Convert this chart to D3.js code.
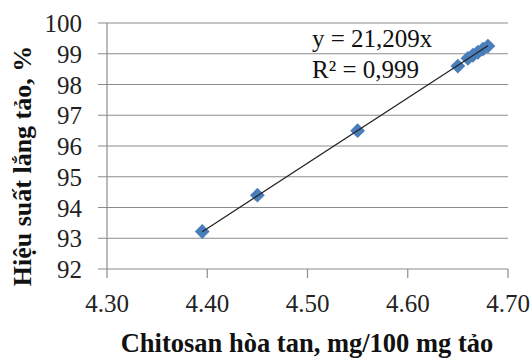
<!DOCTYPE html>
<html>
<head>
<meta charset="utf-8">
<script src="https://cdn.jsdelivr.net/npm/d3@7"></script>
<style>
  body { margin: 0; background: #fff; }
  text { font-family: "Liberation Serif", "Times New Roman", serif; }
</style>
</head>
<body>
<div id="chart"></div>
<script>
// chitosan dissolved (mg/100 mg algae) vs settling efficiency (%)
const chitosan = [4.395, 4.45, 4.55, 4.65, 4.66, 4.665, 4.67, 4.675, 4.68];
const efficiency = [93.22, 94.40, 96.50, 98.60, 98.85, 98.95, 99.05, 99.15, 99.25];
const xTicks = [4.30, 4.40, 4.50, 4.60, 4.70];
const yTicks = [92, 93, 94, 95, 96, 97, 98, 99, 100];
const slope = 21.209;
const eqLines = ['y = 21,209x', 'R² = 0,999'];

const width = 532, height = 358;
const margin = { top: 23, right: 24, bottom: 89, left: 107 };

const svg = d3.select('#chart').append('svg')
  .attr('width', width)
  .attr('height', height);

const x = d3.scaleLinear().domain([4.30, 4.70]).range([margin.left, width - margin.right]);
const y = d3.scaleLinear().domain([92, 100]).range([height - margin.bottom, margin.top]);

// gridlines + left tick marks
svg.append('g')
  .selectAll('line')
  .data(yTicks)
  .enter()
  .append('line')
  .attr('x1', margin.left - 9)
  .attr('x2', width - margin.right)
  .attr('y1', d => y(d))
  .attr('y2', d => y(d))
  .style('stroke', '#8c8c8c')
  .style('stroke-width', 1.2);

// y axis line
svg.append('line')
  .attr('x1', margin.left).attr('x2', margin.left)
  .attr('y1', y(100)).attr('y2', y(92))
  .style('stroke', '#8c8c8c')
  .style('stroke-width', 1.2);

// x ticks
svg.append('g')
  .selectAll('line')
  .data(xTicks)
  .enter()
  .append('line')
  .attr('x1', d => x(d)).attr('x2', d => x(d))
  .attr('y1', y(92)).attr('y2', y(92) + 9)
  .style('stroke', '#8c8c8c')
  .style('stroke-width', 1.2);

// y tick labels
svg.append('g')
  .selectAll('text')
  .data(yTicks)
  .enter()
  .append('text')
  .attr('x', 82)
  .attr('y', d => y(d) + 9)
  .attr('text-anchor', 'end')
  .style('font-size', '25px')
  .style('fill', '#222')
  .text(d => d);

// x tick labels
svg.append('g')
  .selectAll('text')
  .data(xTicks)
  .enter()
  .append('text')
  .attr('x', d => x(d))
  .attr('y', 312)
  .attr('text-anchor', 'middle')
  .style('font-size', '25px')
  .style('fill', '#222')
  .text(d => d3.format('.2f')(d));

const xr = d3.extent(chitosan);

// markers (square turned 45deg, like Excel's diamond)
svg.append('g')
  .selectAll('path')
  .data(chitosan)
  .enter()
  .append('path')
  .attr('d', d3.symbol().type(d3.symbolSquare).size(110))
  .attr('transform', (d, i) => `translate(${x(d)},${y(efficiency[i])}) rotate(45)`)
  .style('fill', '#4a7ebb');

// trendline drawn above the markers
svg.append('line')
  .attr('x1', x(xr[0])).attr('y1', y(slope * xr[0]))
  .attr('x2', x(xr[1])).attr('y2', y(slope * xr[1]))
  .style('stroke', '#222')
  .style('stroke-width', 1.2);

// equation label
svg.append('g')
  .selectAll('text')
  .data(eqLines)
  .enter()
  .append('text')
  .attr('x', 312)
  .attr('y', (d, i) => 47 + i * 31)
  .style('font-size', '25px')
  .style('fill', '#111')
  .text(d => d);

// axis titles
svg.append('text')
  .attr('x', 307)
  .attr('y', 352)
  .attr('text-anchor', 'middle')
  .style('font-size', '26.5px')
  .style('font-weight', 'bold')
  .style('fill', '#111')
  .text('Chitosan hòa tan, mg/100 mg tảo');

svg.append('text')
  .attr('transform', 'translate(31,166) rotate(-90)')
  .attr('text-anchor', 'middle')
  .style('font-size', '26px')
  .style('font-weight', 'bold')
  .style('fill', '#111')
  .text('Hiệu suất lắng tảo, %');
</script>
</body>
</html>
